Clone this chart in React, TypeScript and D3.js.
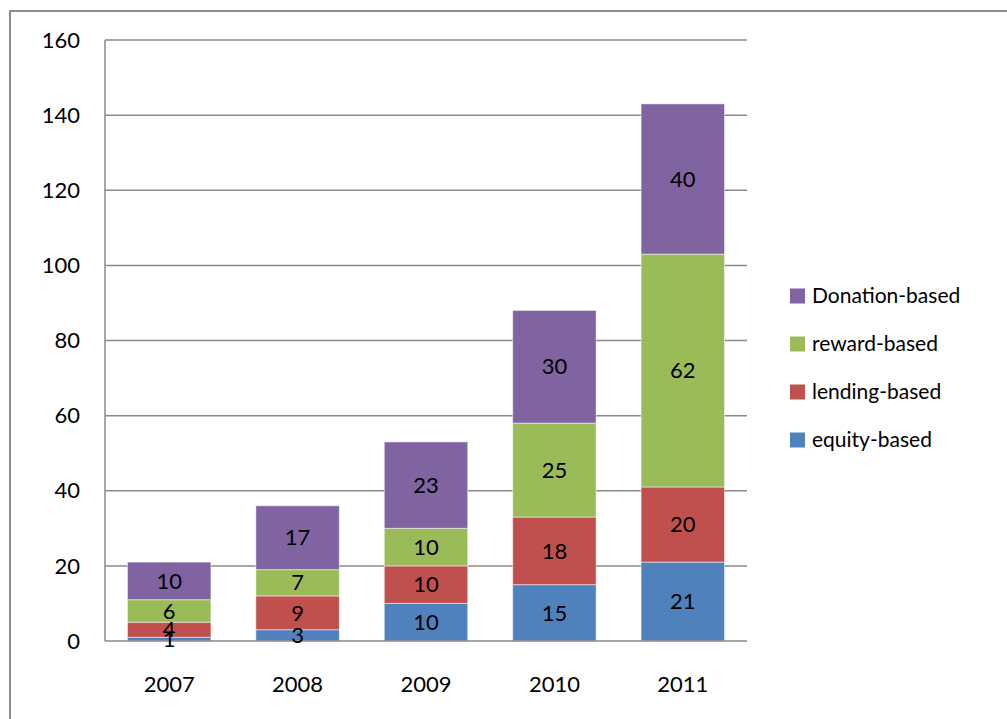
import React from "react";
import * as d3 from "d3";

const years = ["2007", "2008", "2009", "2010", "2011"];
const equity = [1, 3, 10, 15, 21];
const lending = [4, 9, 10, 18, 20];
const reward = [6, 7, 10, 25, 62];
const donation = [10, 17, 23, 30, 40];
const seriesNames = ["equity-based", "lending-based", "reward-based", "Donation-based"];
const seriesColors = ["#4F81BD", "#C0504D", "#9BBB59", "#8064A2"];
const yTicks = [0, 20, 40, 60, 80, 100, 120, 140, 160];

const W = 1007;
const H = 719;
const FONT = "Lato, 'Open Sans', sans-serif";
const NUM = 22;

export default function App() {
  const rows = years.map((y, i) => ({
    year: y,
    "equity-based": equity[i],
    "lending-based": lending[i],
    "reward-based": reward[i],
    "Donation-based": donation[i],
  }));
  const stack = d3.stack<any>().keys(seriesNames)(rows);
  const x = d3.scaleBand().domain(years).range([105, 747]).paddingInner(0.35).paddingOuter(0.175);
  const y = d3.scaleLinear().domain([0, 160]).range([641, 40]);

  return (
    <svg width={W} height={H} style={{ position: "absolute", left: 0, top: 0, background: "#fff" }}>
      <rect x={10} y={11} width={W + 20} height={H + 20} fill="#fff" stroke="#8c8c8c" strokeWidth={2} />
      {yTicks.map((t) => (
        <g key={t}>
          {t > 0 && <line x1={105} x2={747} y1={y(t)} y2={y(t)} stroke="#8a8a8a" strokeWidth={1.5} />}
          <text x={80} y={y(t)} dy="0.35em" textAnchor="end" fontFamily={FONT} fontSize={NUM} fill="#000">
            {t}
          </text>
        </g>
      ))}
      {stack.map((s, si) => (
        <g key={s.key}>
          {s.map((d, i) => (
            <rect
              key={i}
              x={x(years[i])}
              y={y(d[1])}
              width={x.bandwidth()}
              height={y(d[0]) - y(d[1])}
              fill={seriesColors[si]}
              stroke="#ffffff"
              strokeOpacity={0.5}
              strokeWidth={1}
            />
          ))}
        </g>
      ))}
      <line x1={105} x2={105} y1={40} y2={641} stroke="#8a8a8a" strokeWidth={1.5} />
      <line x1={105} x2={747} y1={641} y2={641} stroke="#8a8a8a" strokeWidth={1.5} />
      {stack.map((s) => (
        <g key={s.key + "l"}>
          {s.map((d, i) => (
            <text
              key={i}
              x={(x(years[i]) as number) + x.bandwidth() / 2}
              y={(y(d[0]) + y(d[1])) / 2}
              dy="0.35em"
              textAnchor="middle"
              fontFamily={FONT}
              fontSize={NUM}
              fill="#000"
            >
              {d[1] - d[0]}
            </text>
          ))}
        </g>
      ))}
      {years.map((yr) => (
        <text
          key={yr}
          x={(x(yr) as number) + x.bandwidth() / 2}
          y={684}
          dy="0.35em"
          textAnchor="middle"
          fontFamily={FONT}
          fontSize={NUM}
          fill="#000"
        >
          {yr}
        </text>
      ))}
      {[3, 2, 1, 0].map((si, k) => (
        <g key={si} transform={`translate(790, ${296 + k * 48})`}>
          <rect x={0} y={-7.5} width={15} height={15} fill={seriesColors[si]} />
          <text x={22} y={0} dy="0.35em" fontFamily={FONT} fontSize={21} fill="#000">
            {seriesNames[si]}
          </text>
        </g>
      ))}
    </svg>
  );
}
